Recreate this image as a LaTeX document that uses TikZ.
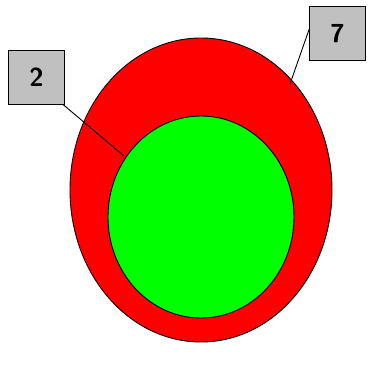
\documentclass[tikz,border=0pt]{standalone}
\usepackage{tikz}
\definecolor{boxgray}{RGB}{192,192,192}
\tikzset{every picture/.style={line width=0.9pt}}
\tikzset{labelbox/.style={draw, fill=boxgray, minimum width=56, minimum height=54, inner sep=0.75pt, font=\sffamily\bfseries\fontsize{26}{30}\selectfont}}

\begin{document}
\begin{tikzpicture}[x=1pt,y=1pt,yscale=-1,xscale=1]
    \useasboundingbox (0,0) rectangle (368,374);
    \draw [fill={rgb, 255:red, 255; green, 0; blue, 0 }] (201,190) ellipse (131 and 152);
    \draw [fill={rgb, 255:red, 0; green, 255; blue, 0 }] (201,217) ellipse (93 and 101);
    \node [labelbox] (two) at (36.5,77) {2};
    \node [labelbox] (seven) at (337.5,33.5) {7};
    \coordinate (two end) at (124,156);
    \coordinate (seven end) at (290,84);
    \draw ([xshift=-2]two.south east) -- (two end);
    \draw ([yshift=-4]seven.west) -- (seven end);
\end{tikzpicture}
\end{document}
